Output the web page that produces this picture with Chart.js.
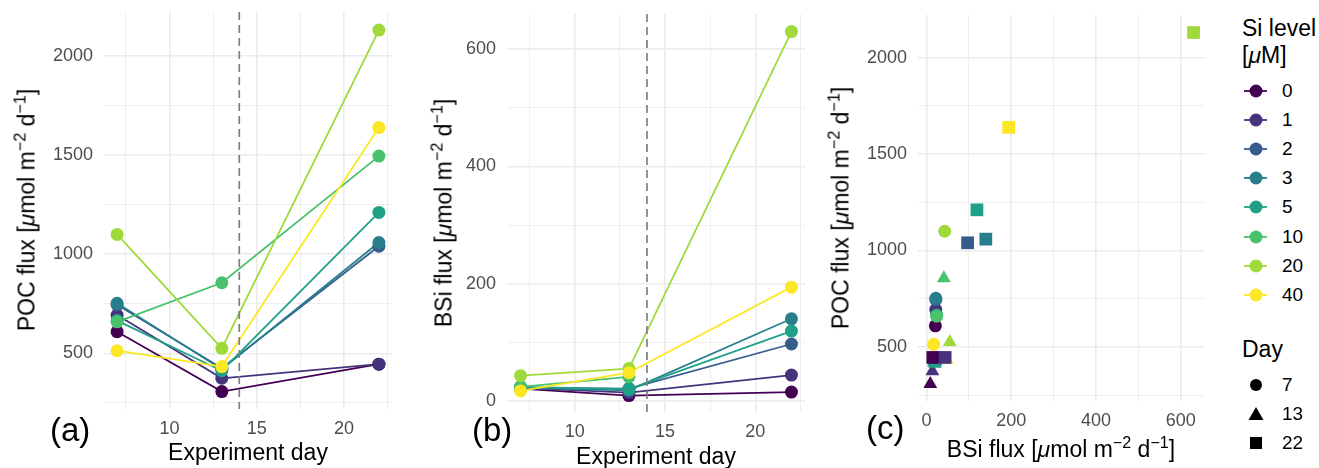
<!DOCTYPE html>
<html>
<head>
<meta charset="utf-8">
<script src="https://cdn.jsdelivr.net/npm/chart.js@4.4.0/dist/chart.umd.min.js"></script>
<style>
    body {
        margin: 0;
        width: 1319px;
        height: 468px;
        overflow: hidden;
        position: relative;
        background: #fff;
        font-family: 'Liberation Sans', Arial, sans-serif;
        color: #000;
    }
    .panel { position: absolute; top: 0; height: 468px; }
    .tag { position: absolute; font-size: 33px; line-height: 33px; }
    .xtitle, .ytitle {
        position: absolute;
        font-size: 23px;
        line-height: 23px;
        white-space: nowrap;
        transform: translate(-50%, -50%);
    }
    .ytitle { transform: translate(-50%, -50%) rotate(-90deg); }
    .sup { font-size: 0.7em; position: relative; top: -0.55em; }
    .legend-title { position: absolute; left: 1242px; font-size: 23px; line-height: 27px; }
    .legend-row { position: absolute; left: 1242px; height: 22px; line-height: 22px; font-size: 19px; }
    .legend-row svg { position: absolute; left: 0; top: 0; }
    .legend-row span { position: absolute; left: 40px; top: 0; }
</style>
</head>
<body>

<div class="panel" style="left:0;width:400px"><canvas id="pocChart" width="400" height="468"></canvas></div>
<div class="panel" style="left:420px;width:395px"><canvas id="bsiChart" width="395" height="468"></canvas></div>
<div class="panel" style="left:815px;width:400px"><canvas id="scatterChart" width="400" height="468"></canvas></div>

<div class="ytitle" style="left:28px;top:210px">POC flux [<i>μ</i>mol m<span class="sup">−2</span> d<span class="sup">−1</span>]</div>
<div class="ytitle" style="left:445px;top:213px">BSi flux [<i>μ</i>mol m<span class="sup">−2</span> d<span class="sup">−1</span>]</div>
<div class="ytitle" style="left:842px;top:208px">POC flux [<i>μ</i>mol m<span class="sup">−2</span> d<span class="sup">−1</span>]</div>

<div class="xtitle" style="left:248px;top:452px">Experiment day</div>
<div class="xtitle" style="left:656px;top:456px">Experiment day</div>
<div class="xtitle" style="left:1061px;top:450px">BSi flux [<i>μ</i>mol m<span class="sup">−2</span> d<span class="sup">−1</span>]</div>

<div class="tag" style="left:50px;top:413px">(a)</div>
<div class="tag" style="left:472px;top:413px">(b)</div>
<div class="tag" style="left:866px;top:411px">(c)</div>

<div id="legend"></div>

<script>
// sampling days and Si treatments
const days = [7, 13, 22];
const siLevels = ['0', '1', '2', '3', '5', '10', '20', '40'];
const siColors = ['#440154', '#46337E', '#365C8D', '#277F8E', '#1FA187', '#4AC16D', '#9FDA3A', '#FDE725'];

// POC flux per Si level, one value per day
const pocFlux = [
    [609, 307, 445],
    [693, 374, 445],
    [745, 425, 1040],
    [752, 420, 1059],
    [665, 412, 1211],
    [659, 856, 1495],
    [1100, 525, 2131],
    [513, 433, 1639]
];

// BSi flux per Si level, one value per day (null = not measured)
const bsiFlux = [
    [21, 9, 15],
    [22, 14, 44],
    [22, 21, 97],
    [22, 18, 140],
    [24, 20, 119],
    [24, 41, null],
    [43, 55, 630],
    [17, 48, 194]
];

const dayTicks = [10, 15, 20];
const dayMinor = [7.5, 12.5, 17.5, 22.5];
const pocTicks = [500, 1000, 1500, 2000];
const pocMinor = [250, 750, 1250, 1750];
const bsiTicks = [0, 200, 400, 600];
const bsiMinor = [100, 300, 500];
const treatmentDay = 14;

const dayShapes = ['circle', 'triangle', 'rect'];
const shapeRadius = { circle: 6.5, triangle: 8, rect: 9 };

Chart.defaults.font.family = "'Liberation Sans', Arial, sans-serif";
Chart.defaults.animation = false;

const dashLine = {
    id: 'dashLine',
    afterDatasetsDraw(chart, args, opts) {
        if (opts.value == null) return;
        const { ctx, chartArea } = chart;
        const x = chart.scales.x.getPixelForValue(opts.value);
        ctx.save();
        ctx.strokeStyle = '#7F7F7F';
        ctx.lineWidth = 1.7;
        ctx.setLineDash([8, 5]);
        ctx.beginPath();
        ctx.moveTo(x, chartArea.top);
        ctx.lineTo(x, chartArea.bottom);
        ctx.stroke();
        ctx.restore();
    }
};

function makeAxis(min, max, major, minor, fit) {
    const all = major.concat(minor).sort((a, b) => a - b);
    return {
        type: 'linear',
        min: min,
        max: max,
        afterBuildTicks: axis => { axis.ticks = all.map(v => ({ value: v })); },
        afterFit: scale => {
            if (fit.width) scale.width = fit.width;
            if (fit.height) scale.height = fit.height;
            // keep the plot area where it was asked for
            scale.paddingTop = scale.paddingBottom = scale.paddingLeft = scale.paddingRight = 0;
        },
        ticks: {
            autoSkip: false,
            maxRotation: 0,
            padding: fit.pad,
            color: '#4D4D4D',
            font: { size: 18 },
            callback: v => major.includes(v) ? String(v) : ''
        },
        grid: {
            drawTicks: false,
            color: '#EBEBEB',
            lineWidth: ctx => (ctx.tick && major.includes(ctx.tick.value)) ? 1.6 : 0.8
        },
        border: { display: false }
    };
}

function lineDatasets(values) {
    const sets = [];
    siLevels.forEach((level, i) => {
        const pts = days.map((d, j) => ({ x: d, y: values[i][j] })).filter(p => p.y !== null);
        sets.push({
            label: level + ' line',
            data: pts,
            borderColor: siColors[i],
            borderWidth: 1.8,
            pointRadius: 0,
            showLine: true,
            order: 100 + siLevels.length - i
        });
        sets.push({
            label: level,
            data: pts,
            backgroundColor: siColors[i],
            borderWidth: 0,
            pointRadius: 6.5,
            showLine: false,
            order: siLevels.length - i
        });
    });
    return sets;
}

function timeChart(id, values, yMin, yMax, yMajor, yMinor, box) {
    new Chart(document.getElementById(id), {
        type: 'scatter',
        data: { datasets: lineDatasets(values) },
        options: {
            responsive: false,
            layout: { autoPadding: false, padding: { top: box.top, right: box.right, left: 0, bottom: 0 } },
            plugins: {
                legend: { display: false },
                tooltip: { enabled: false },
                dashLine: { value: treatmentDay }
            },
            scales: {
                x: makeAxis(6.25, 22.75, dayTicks, dayMinor, { height: box.xh, pad: 9 }),
                y: makeAxis(yMin, yMax, yMajor, yMinor, { width: box.yw, pad: 11 })
            }
        },
        plugins: [dashLine]
    });
}

timeChart('pocChart', pocFlux, 219, 2222, pocTicks, pocMinor, { top: 12, right: 8, xh: 59, yw: 104 });
timeChart('bsiChart', bsiFlux, -19, 660, bsiTicks, bsiMinor, { top: 14, right: 10, xh: 56, yw: 87 });

// panel (c): POC against BSi, one dataset per day (shape), coloured by Si level
const scatterSets = days.map((d, j) => {
    const pts = [];
    const cols = [];
    siLevels.forEach((level, i) => {
        if (bsiFlux[i][j] === null || pocFlux[i][j] === null) return;
        pts.push({ x: bsiFlux[i][j], y: pocFlux[i][j] });
        cols.push(siColors[i]);
    });
    return {
        label: 'Day ' + d,
        data: pts,
        backgroundColor: cols,
        borderWidth: 0,
        pointStyle: dayShapes[j],
        pointRadius: shapeRadius[dayShapes[j]],
        order: days.length - j
    };
});

new Chart(document.getElementById('scatterChart'), {
    type: 'scatter',
    data: { datasets: scatterSets },
    options: {
        responsive: false,
        layout: { autoPadding: false, padding: { top: 15, right: 10, left: 0, bottom: 0 } },
        plugins: { legend: { display: false }, tooltip: { enabled: false } },
        scales: {
            x: makeAxis(-20, 657, bsiTicks, bsiMinor, { height: 67, pad: 9 }),
            y: makeAxis(219, 2222, pocTicks, pocMinor, { width: 103, pad: 11 })
        }
    }
});

// legend
function buildLegend() {
    const legend = document.getElementById('legend');
    let html = '<div class="legend-title" style="top:15px">Si level<br>[<i>μ</i>M]</div>';
    siLevels.forEach((level, i) => {
        const cy = 91 + i * 29.1;
        html += `<div class="legend-row" style="top:${cy - 11}px">
            <svg width="30" height="22"><line x1="2" y1="11" x2="25" y2="11" stroke="${siColors[i]}" stroke-width="1.8"/>
            <circle cx="14" cy="11" r="6.5" fill="${siColors[i]}"/></svg><span>${level}</span></div>`;
    });
    html += '<div class="legend-title" style="top:336px">Day</div>';
    const icons = [
        '<circle cx="14" cy="11" r="6" fill="#000"/>',
        '<polygon points="14,4 21.5,17 6.5,17" fill="#000"/>',
        '<rect x="8" y="5" width="12" height="12" fill="#000"/>'
    ];
    days.forEach((d, j) => {
        const cy = 385 + j * 29;
        html += `<div class="legend-row" style="top:${cy - 11}px">
            <svg width="30" height="22">${icons[j]}</svg><span>${d}</span></div>`;
    });
    legend.innerHTML = html;
}
buildLegend();
</script>
</body>
</html>
